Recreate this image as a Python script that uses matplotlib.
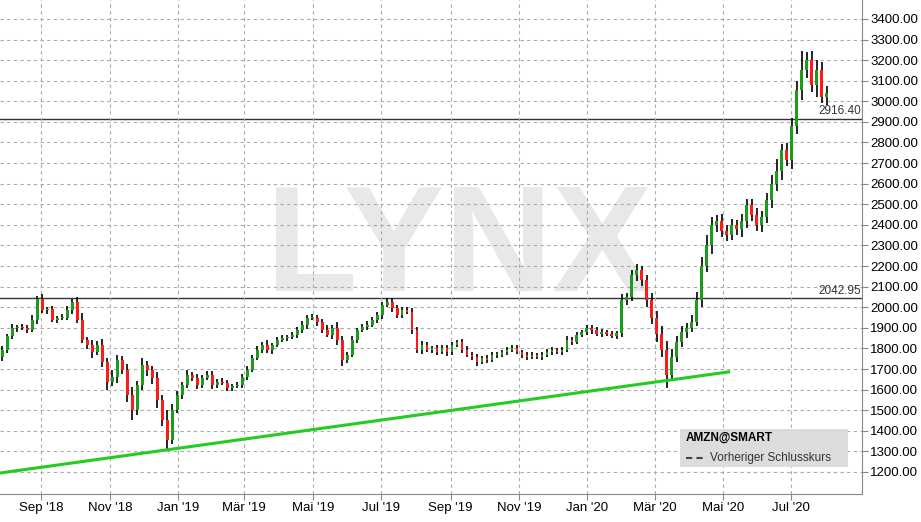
import matplotlib
matplotlib.use("Agg")
import matplotlib.pyplot as plt
import matplotlib.dates as mdates
import numpy as np
import pandas as pd

plt.rcParams['font.family'] = ['Liberation Sans', 'DejaVu Sans']

closes = [1793,1860,1900,1905,1900,1890,1939,2040,1987,1990,1939,1948,1950,1987,2026,1940,1842,1817,1783,1817,
          1735,1638,1660,1745,1696,1575,1502,1620,1720,1696,1657,1550,1453,1356,1502,1575,1623,1672,1657,1623,
          1657,1672,1623,1638,1633,1609,1618,1623,1662,1696,1754,1793,1817,1793,1817,1842,1851,1856,1866,1890,
          1914,1948,1948,1929,1890,1866,1900,1842,1745,1769,1842,1890,1905,1914,1939,1963,2012,2026,1997,1963,
          1987,1978,1890,1793,1817,1793,1803,1783,1803,1783,1817,1832,1793,1769,1759,1735,1754,1745,1769,1769,
          1783,1793,1803,1783,1769,1759,1769,1759,1769,1783,1793,1783,1793,1842,1832,1866,1880,1900,1890,1870,
          1880,1870,1860,1875,2036,2050,2157,2180,2130,2036,1950,1870,1793,1670,1760,1830,1880,1900,1930,2036,
          2200,2300,2400,2420,2370,2350,2400,2380,2420,2497,2450,2400,2440,2520,2600,2660,2764,2715,2880,3055,
          3152,3200,3080,3150,3020,3040]
first_open = 1760
wick_up = [18,12,20,10,15,12,22,14,25,12,18,10,16,20,12,25,30,14,22,18,30,20,35,24,18,30,40,22,35,20,
           18,30,25,50,28,20,16,22,14,18,12,20,16,14,18,12,10,16,14,20,12,18,14,22,10,12,16,10,14,12,
           18,14,20,12,16,22,14,30,20,12,16,10,14,18,12,16,14,20,18,12,14,16,20,12,18,14,10,16,12,14,
           16,10,12,18,14,12,10,16,12,14,10,12,14,16,10,12,14,10,12,16,14,10,12,18,14,12,10,14,12,16,
           12,10,14,12,30,20,25,30,22,28,35,30,40,45,35,30,28,25,30,40,45,50,40,30,35,28,30,25,35,30,
           28,30,25,35,40,60,30,35,40,45,90,40,45,50,40,35]
wick_dn = [20,14,12,18,10,16,12,20,14,18,12,16,10,14,20,18,16,22,30,14,25,40,20,30,22,35,50,24,20,30,
           28,40,30,45,22,18,20,14,16,20,14,12,18,16,12,14,18,12,16,14,10,12,16,14,18,12,10,14,12,16,
           14,18,12,20,16,12,18,25,30,14,12,16,10,14,12,16,18,12,20,14,16,12,20,14,18,12,16,14,12,18,
           14,12,16,10,14,20,12,14,10,16,12,14,10,12,16,14,10,12,14,12,16,10,14,12,16,10,12,14,18,12,
           14,12,10,16,20,25,22,30,28,35,30,40,35,60,30,28,25,30,22,20,35,30,40,35,28,30,25,30,40,35,
           30,28,35,30,40,35,40,30,45,40,50,40,35,60,30,40]

tick_labels = ["Sep '18","Nov '18","Jan '19","Mär '19","Mai '19","Jul '19","Sep '19","Nov '19",
               "Jan '20","Mär '20","Mai '20","Jul '20"]
tick_dates = pd.to_datetime(["2018-09-01","2018-11-01","2019-01-01","2019-03-01","2019-05-01","2019-07-01",
                             "2019-09-01","2019-11-01","2020-01-01","2020-03-01","2020-05-01","2020-07-01"])
trend_dates = pd.to_datetime(["2018-07-26","2020-05-06"])
trend_vals = [1195, 1686]
prev_close_1 = 2042.95
prev_close_2 = 2916.40

n = len(closes)
dates = pd.Timestamp("2018-07-28") + pd.to_timedelta(np.arange(n) * 107, unit="h")
opens = [first_open] + closes[:-1]

fig = plt.figure(figsize=(9.21, 5.22), dpi=100)
ax = fig.add_axes([0, 1 - 494/522, 862/921, 494/522])
xd = mdates.date2num(dates)
w = 2.6
for i in range(n):
    o, c = opens[i], closes[i]
    hi = max(o, c) + wick_up[i]
    lo = min(o, c) - wick_dn[i]
    col = '#1a9e1a' if c >= o else '#ff1a1a'
    ax.vlines(xd[i], lo, hi, color='black', lw=1.2, zorder=2)
    ax.add_patch(plt.Rectangle((xd[i] - w/2, min(o, c)), w, max(abs(c - o), 6), color=col, zorder=3, lw=0))

ax.plot(mdates.date2num(trend_dates), trend_vals, color='#22cc22', lw=2.2, zorder=4)
ax.axhline(prev_close_1, color='#333333', lw=1, zorder=1)
ax.axhline(prev_close_2, color='#333333', lw=1, zorder=1)

xmin = mdates.date2num(pd.Timestamp("2018-07-26"))
xmax = mdates.date2num(pd.Timestamp("2020-09-02"))
ax.set_xlim(xmin, xmax)
ax.set_ylim(1093, 3492)
ax.text(xmax - 1, prev_close_1 + 8, f"{prev_close_1:.2f}", ha='right', va='bottom', fontsize=8.5, color='#333333')
ax.text(xmax - 1, prev_close_2 + 8, f"{prev_close_2:.2f}", ha='right', va='bottom', fontsize=8.5, color='#333333')

ax.text(0.533, 0.49, "LYNX", transform=ax.transAxes, fontsize=108, color='#e8e8e8', ha='center', va='center',
        fontweight='bold', zorder=0)

ax.yaxis.tick_right()
ax.set_yticks(np.arange(1200, 3401, 100))
ax.set_yticklabels([f"{v:.2f}" for v in np.arange(1200, 3401, 100)], fontsize=9.5)
ax.set_xticks(mdates.date2num(tick_dates))
ax.set_xticklabels(tick_labels, fontsize=9.5)
ax.tick_params(length=4, color='#888888', pad=2)
ax.grid(True, ls=(0, (3, 3)), color='#aaaaaa', lw=0.8)
for s in ['top', 'left']:
    ax.spines[s].set_visible(False)
ax.spines['right'].set_color('#888888')
ax.spines['bottom'].set_color('#888888')

# legend box
lx0 = xmin + (680/862) * (xmax - xmin)
lx1 = xmin + (848/862) * (xmax - xmin)
ax.add_patch(plt.Rectangle((lx0, 1225), lx1 - lx0, 185, color='#dcdcdc', zorder=5, lw=0))
ax.text(lx0 + 5, 1365, "AMZN@SMART", fontsize=8.5, fontweight='bold', va='center', zorder=6)
ax.plot([lx0 + 5, lx0 + 22], [1270, 1270], color='#444444', lw=1.5, ls=(0, (3, 2)), zorder=6)
ax.text(lx0 + 27, 1270, "Vorheriger Schlusskurs", fontsize=8.5, va='center', color='#333333', zorder=6)

fig.savefig("out.png", dpi=100)
